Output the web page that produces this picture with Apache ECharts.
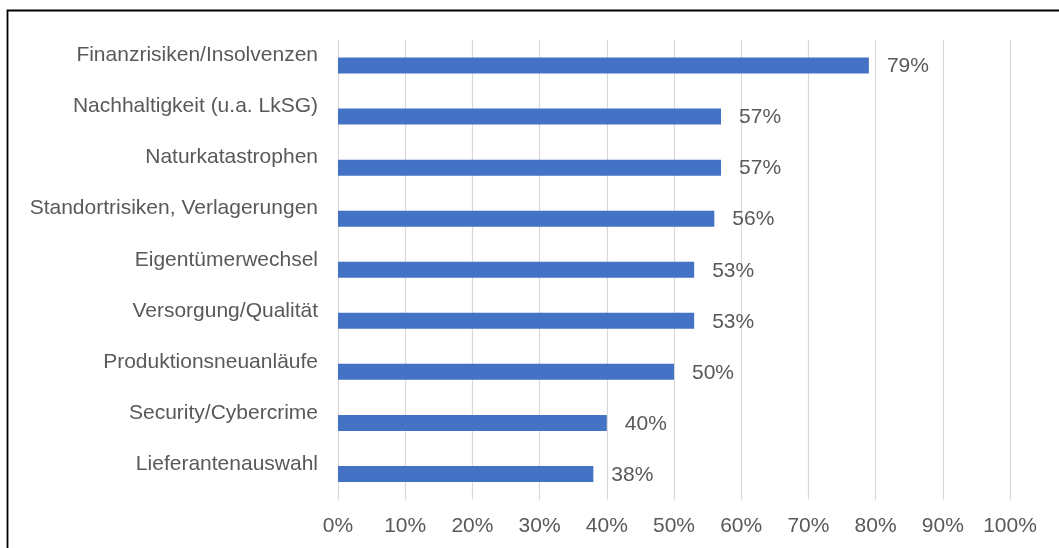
<!DOCTYPE html>
<html>
<head>
<meta charset="utf-8">
<script src="https://cdn.jsdelivr.net/npm/echarts@6/dist/echarts.min.js"></script>
<style>
  html, body { margin: 0; padding: 0; background: #ffffff; }
  #chart { width: 1059px; height: 548px; }
</style>
</head>
<body>
<div id="chart"></div>
<script>
// Risk categories, top to bottom
const categories = [
  'Finanzrisiken/Insolvenzen',
  'Nachhaltigkeit (u.a. LkSG)',
  'Naturkatastrophen',
  'Standortrisiken, Verlagerungen',
  'Eigentümerwechsel',
  'Versorgung/Qualität',
  'Produktionsneuanläufe',
  'Security/Cybercrime',
  'Lieferantenauswahl'
];
// Share of respondents, in percent
const values = [79, 57, 57, 56, 53, 53, 50, 40, 38];
// Value axis: 0 % to 100 % in steps of 10
const axisMin = 0;
const axisMax = 100;
const axisStep = 10;

const FONT = '"Liberation Sans", Arial, sans-serif';
const TEXT = '#595959';

const chart = echarts.init(document.getElementById('chart'), null, { renderer: 'canvas' });
chart.setOption({
  animation: false,
  backgroundColor: '#ffffff',
  textStyle: { fontFamily: FONT },
  grid: { left: 338, right: 49, top: 40, bottom: 48.5, containLabel: false },
  xAxis: {
    type: 'value',
    min: axisMin,
    max: axisMax,
    interval: axisStep,
    axisLine: { show: false },
    axisTick: { show: false },
    splitLine: { show: true, lineStyle: { color: '#d9d9d9', width: 1.2 } },
    axisLabel: {
      formatter: '{value}%',
      color: TEXT,
      fontSize: 21,
      fontFamily: FONT,
      margin: 16
    }
  },
  yAxis: {
    type: 'category',
    data: categories,
    inverse: true,
    axisLine: { show: false },
    axisTick: { show: false },
    splitLine: { show: false },
    axisLabel: {
      color: TEXT,
      fontSize: 21,
      fontFamily: FONT,
      margin: 20,
      verticalAlign: 'bottom',
      lineHeight: 20
    }
  },
  series: [{
    type: 'bar',
    data: values,
    barWidth: 16,
    itemStyle: { color: '#4472c4' },
    label: {
      show: true,
      position: 'right',
      distance: 18,
      offset: [0, 1],
      formatter: p => p.value + '%',
      color: TEXT,
      fontSize: 21,
      fontFamily: FONT
    }
  }],
  graphic: [{
    type: 'polyline',
    shape: { points: [[7.5, 548], [7.5, 10.5], [1059, 10.5]] },
    style: { stroke: '#000000', lineWidth: 1.8, fill: null },
    silent: true
  }]
});
</script>
</body>
</html>
